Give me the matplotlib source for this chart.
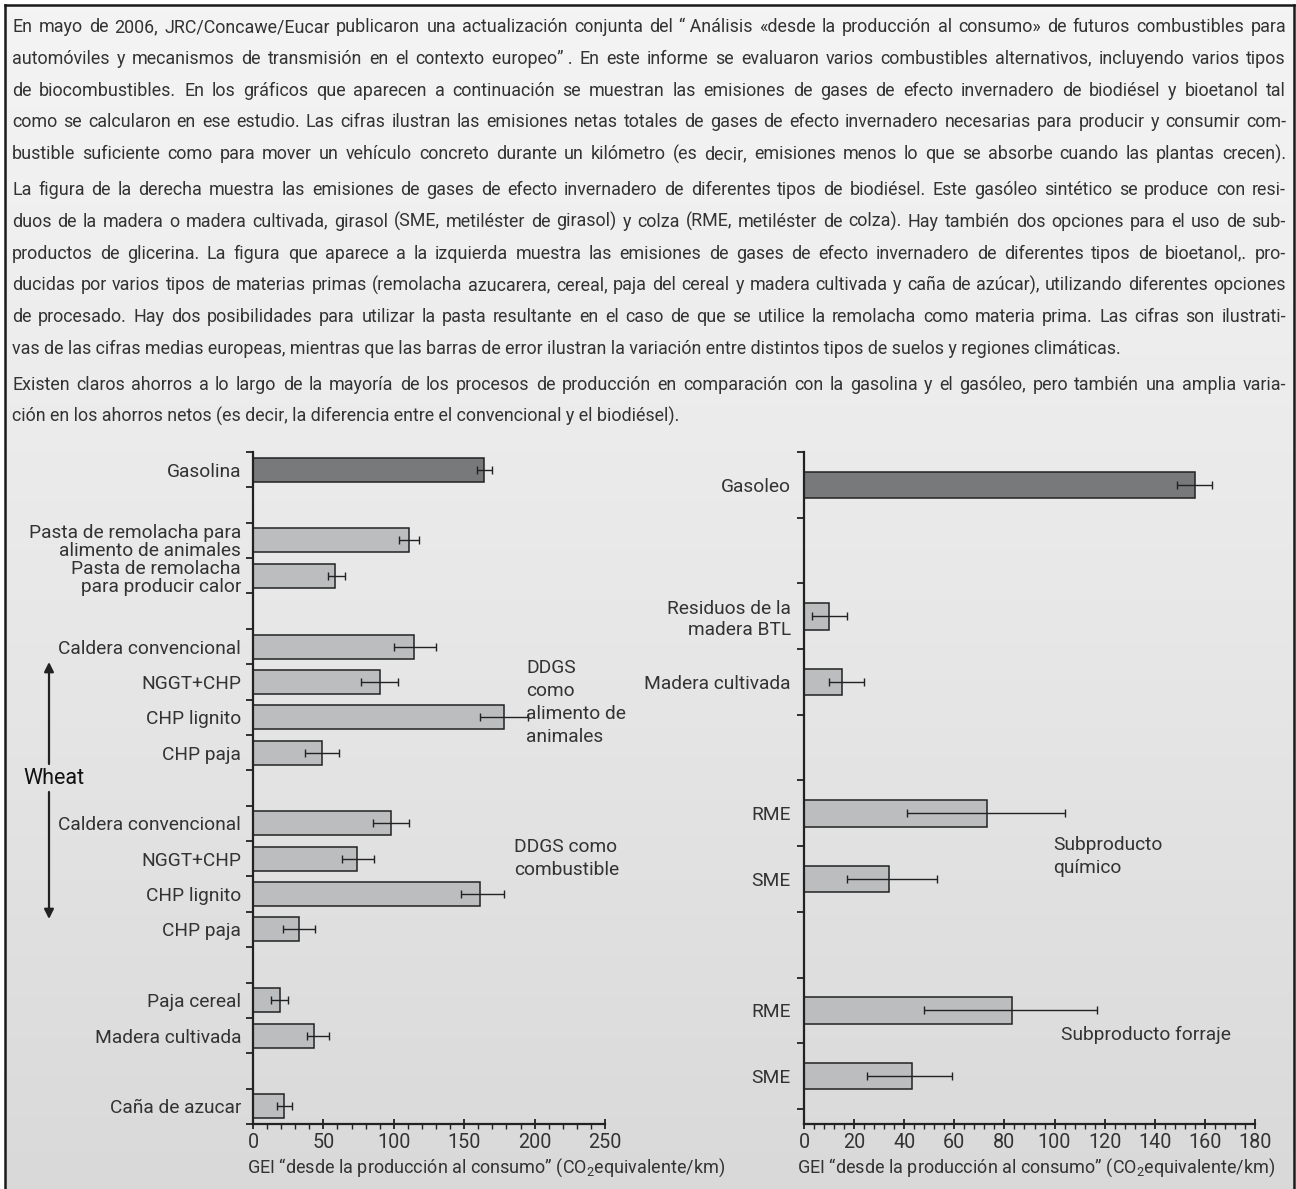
import numpy as np
import matplotlib
matplotlib.use('Agg')
import matplotlib.pyplot as plt
from matplotlib.colors import LinearSegmentedColormap
from matplotlib.patches import FancyArrowPatch
from matplotlib.ticker import MultipleLocator

# --- datos ---
left_labels = ['Gasolina', 'Pasta de remolacha para\nalimento de animales',
               'Pasta de remolacha\npara producir calor',
               'Caldera convencional', 'NGGT+CHP', 'CHP lignito', 'CHP paja',
               'Caldera convencional', 'NGGT+CHP', 'CHP lignito', 'CHP paja',
               'Paja cereal', 'Madera cultivada', 'Caña de azucar']
left_groups = [1, 2, 4, 4, 2, 1]
left_values = [164, 111, 58, 114, 90, 178, 49, 98, 74, 161, 33, 19, 43, 22]
left_low = [159, 104, 53, 100, 77, 161, 37, 85, 63, 148, 21, 13, 38, 17]
left_high = [170, 118, 65, 130, 103, 195, 61, 111, 86, 178, 44, 25, 54, 28]

right_labels = ['Gasoleo', 'Residuos de la\nmadera BTL', 'Madera cultivada',
                'RME', 'SME', 'RME', 'SME']
right_groups = [1, 2, 2, 2]
right_values = [156, 10, 15, 73, 34, 83, 43]
right_low = [149, 3, 10, 41, 17, 48, 25]
right_high = [163, 17, 24, 104, 53, 117, 59]

xlabel = 'GEI \u201cdesde la producción al consumo\u201d (CO$_{2}$equivalente/km)'

paragraphs = [
    ['En mayo de 2006, JRC/Concawe/Eucar publicaron una actualización conjunta del \u201c\u00a0Análisis «desde la producción al consumo» de futuros combustibles para',
     'automóviles y mecanismos de transmisión en el contexto europeo\u201d\u00a0. En este informe se evaluaron varios combustibles alternativos, incluyendo varios tipos',
     'de biocombustibles. En los gráficos que aparecen a continuación se muestran las emisiones de gases de efecto invernadero de biodiésel y bioetanol tal',
     'como se calcularon en ese estudio. Las cifras ilustran las emisiones netas totales de gases de efecto invernadero necesarias para producir y consumir com-',
     'bustible suficiente como para mover un vehículo concreto durante un kilómetro (es decir, emisiones menos lo que se absorbe cuando las plantas crecen).'],
    ['La figura de la derecha muestra las emisiones de gases de efecto invernadero de diferentes tipos de biodiésel. Este gasóleo sintético se produce con resi-',
     'duos de la madera o madera cultivada, girasol (SME, metiléster de girasol) y colza (RME, metiléster de colza). Hay también dos opciones para el uso de sub-',
     'productos de glicerina. La figura que aparece a la izquierda muestra las emisiones de gases de efecto invernadero de diferentes tipos de bioetanol,. pro-',
     'ducidas por varios tipos de materias primas (remolacha azucarera, cereal, paja del cereal y madera cultivada y caña de azúcar), utilizando diferentes opciones',
     'de procesado. Hay dos posibilidades para utilizar la pasta resultante en el caso de que se utilice la remolacha como materia prima. Las cifras son ilustrati-',
     'vas de las cifras medias europeas, mientras que las barras de error ilustran la variación entre distintos tipos de suelos y regiones climáticas.'],
    ['Existen claros ahorros a lo largo de la mayoría de los procesos de producción en comparación con la gasolina y el gasóleo, pero también una amplia varia-',
     'ción en los ahorros netos (es decir, la diferencia entre el convencional y el biodiésel).'],
]

# --- estilo ---
plt.rcParams['font.family'] = ['Roboto', 'DejaVu Sans']
plt.rcParams['mathtext.fontset'] = 'custom'
plt.rcParams['mathtext.rm'] = 'Roboto'
plt.rcParams['mathtext.it'] = 'Roboto'
TXT = '#333333'
EDGE = '#222222'
DARK = '#78797b'
LIGHT = '#bcbdbf'
LBL = 13.8

W, H = 1296, 1189
fig = plt.figure(figsize=(W / 100, H / 100), dpi=100)
fig.patch.set_facecolor('white')
renderer = fig.canvas.get_renderer()


def fx(x):
    return x / W


def fy(y):
    return 1 - y / H


def width_of(s, size):
    t = fig.text(0, 0, s, fontsize=size)
    w = t.get_window_extent(renderer).width
    t.remove()
    return w


# fondo con degradado y marco
bg = fig.add_axes([fx(5), fy(1195), fx(1294) - fx(5), fy(5) - fy(1195)], zorder=0)
grad = np.linspace(0, 1, 256).reshape(-1, 1)
cmap = LinearSegmentedColormap.from_list('bg', ['#f4f4f4', '#e8e8e8', '#d9d9d9'])
bg.imshow(grad, aspect='auto', cmap=cmap, extent=[0, 1, 1, 0])
bg.set_xticks([])
bg.set_yticks([])
for s in bg.spines.values():
    s.set_linewidth(1.8)
    s.set_color('#1a1a1a')

# texto justificado
x0, x1 = 12, 1286
widest = max(width_of(line, 14) for para in paragraphs for line in para)
size = 14 * 0.99 * (x1 - x0) / widest

y = 27
for para in paragraphs:
    for i, line in enumerate(para):
        last = (i == len(para) - 1) and i > 0 and len(line) < 150
        if last:
            fig.text(fx(x0), fy(y), line, fontsize=size, color=TXT, va='center')
        else:
            words = line.split(' ')
            ts = [fig.text(0, fy(y), w, fontsize=size, color=TXT, va='center')
                  for w in words]
            widths = [t.get_window_extent(renderer).width for t in ts]
            gap = (x1 - x0 - sum(widths)) / (len(words) - 1)
            xx = x0
            for t, w in zip(ts, widths):
                t.set_x(fx(xx))
                xx += w + gap
        y += 31.8
    y += 4


def slot_positions(groups):
    pos, s = [], 0
    for g in groups:
        pos.extend(range(s, s + g))
        s += g + 1
    return np.array(pos), s - 1


def bar_panel(rect, labels, groups, values, low, high, xmax, major, minor,
              bar_h, ybottom, pad):
    ax = fig.add_axes(rect, zorder=2)
    ax.patch.set_alpha(0)
    pos, nslots = slot_positions(groups)
    values = np.array(values, float)
    colors = [DARK] + [LIGHT] * (len(values) - 1)
    ax.barh(pos, values, height=bar_h, color=colors, edgecolor=EDGE,
            linewidth=1.1, zorder=2)
    ax.errorbar(values, pos, xerr=[values - np.array(low), np.array(high) - values],
                fmt='none', ecolor=EDGE, elinewidth=1.0, capsize=2.6,
                capthick=1.0, zorder=3)
    ax.set_xlim(0, xmax)
    ax.set_ylim(ybottom, -0.5)
    for side in ['top', 'right']:
        ax.spines[side].set_visible(False)
    for side in ['left', 'bottom']:
        ax.spines[side].set_linewidth(1.6)
        ax.spines[side].set_color(EDGE)
    ax.xaxis.set_major_locator(MultipleLocator(major))
    ax.xaxis.set_minor_locator(MultipleLocator(minor))
    ax.tick_params(axis='x', which='major', direction='inout', length=7,
                   width=1.3, color=EDGE, labelsize=LBL + 0.4, labelcolor=TXT, pad=3)
    ax.tick_params(axis='x', which='minor', direction='out', length=3.5,
                   width=1.0, color=EDGE)
    bounds = np.arange(-0.5, nslots, 1)
    ax.set_yticks(bounds, labels=[''] * len(bounds))
    ax.set_yticks(pos, labels=labels, minor=True)
    ax.tick_params(axis='y', which='major', direction='out', length=5,
                   width=1.3, color=EDGE)
    ax.tick_params(axis='y', which='minor', length=0, labelsize=LBL,
                   labelcolor=TXT, pad=pad)
    return ax


axl = bar_panel([fx(253), fy(1124), fx(605) - fx(253), fy(452) - fy(1124)],
                left_labels, left_groups, left_values, left_low, left_high,
                250, 50, 10, 0.68, 18.5, 8.6)
for t in axl.get_yticklabels(minor=True):
    t.set_linespacing(0.98)

axr = bar_panel([fx(804), fy(1124), fx(1255) - fx(804), fy(452) - fy(1124)],
                right_labels, right_groups, right_values, right_low, right_high,
                180, 20, 4, 0.405, 9.73, 9.4)
for t in axr.get_yticklabels(minor=True):
    t.set_linespacing(1.2)

xl_size = 13.5 * 477 / width_of(xlabel, 13.5)
fig.text(fx(247), fy(1168), xlabel, fontsize=xl_size, color=TXT, va='center')
fig.text(fx(797), fy(1168), xlabel, fontsize=xl_size, color=TXT, va='center')

# anotaciones
fig.text(fx(526), fy(659), 'DDGS\ncomo\nalimento de\nanimales', fontsize=LBL,
         color=TXT, va='top', linespacing=1.36)
fig.text(fx(514), fy(838), 'DDGS como\ncombustible', fontsize=LBL,
         color=TXT, va='top', linespacing=1.36)
fig.text(fx(1053), fy(836), 'Subproducto\nquímico', fontsize=LBL,
         color=TXT, va='top', linespacing=1.36)
fig.text(fx(1061), fy(1035), 'Subproducto forraje', fontsize=LBL,
         color=TXT, va='center')

fig.text(fx(23), fy(778), 'Wheat', fontsize=15.5, color='#111111', va='center')
for ya, yb in [(764, 662), (792, 919)]:
    fig.add_artist(FancyArrowPatch((fx(49), fy(ya)), (fx(49), fy(yb)),
                                   transform=fig.transFigure, arrowstyle='-|>',
                                   mutation_scale=14, color='#222222', lw=1.6,
                                   shrinkA=0, shrinkB=0))

fig.savefig('out.png', dpi=100)
